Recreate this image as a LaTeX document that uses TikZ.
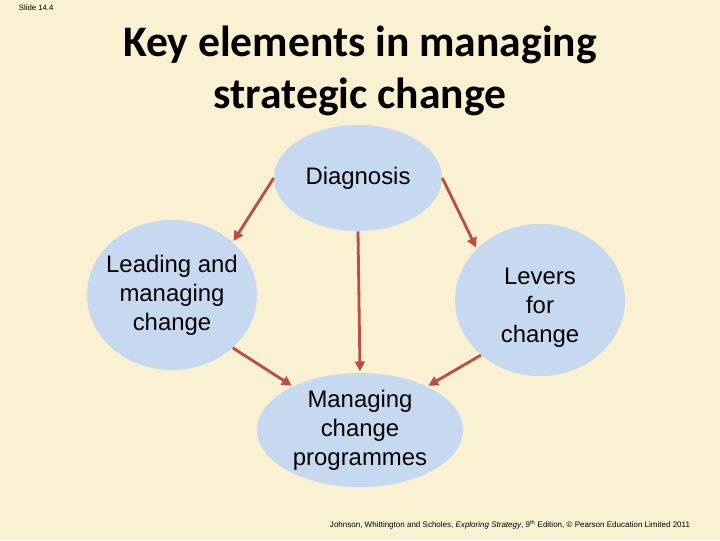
\documentclass[tikz,border=0pt]{standalone}
\usepackage{fontspec}
\setmainfont{Liberation Sans}
\newfontfamily\titlefont{Carlito}
\usepackage{tikz}
\usetikzlibrary{arrows.meta,shapes.geometric}

\definecolor{slidebg}{RGB}{250,240,210}
\definecolor{blobfill}{RGB}{198,217,240}
\definecolor{arrowred}{RGB}{185,78,68}

\tikzset{
  blob/.style={ellipse,fill=blobfill,inner sep=-12pt,align=center,
    font=\fontsize{17}{20.5}\selectfont},
  link/.style={-{Triangle[length=7pt,width=7pt]},line width=2pt,arrowred,shorten >=1pt}
}

\begin{document}
\begin{tikzpicture}[x=0.025cm,y=-0.025cm]
  % Slide background
  \fill[slidebg] (0,0) rectangle (720,540);
  \useasboundingbox (0,0) rectangle (720,540);
  % Slide number and title
  \node[anchor=west,font=\fontsize{5.5}{6}\selectfont] (slideno) at (14,8) {Slide 14.4};
  \node[align=center,font=\titlefont\bfseries\fontsize{31}{37}\selectfont] (title) at (360,71)
    {Key elements in managing\\strategic change};
  % The four elements
  \node[blob,minimum width=4.2cm,minimum height=2.65cm] (diag) at (358,178) {Diagnosis};
  \node[blob,minimum width=4.25cm,minimum height=3.75cm] (lead) at (172,295) {Leading and\\managing\\change};
  \node[blob,minimum width=4.25cm,minimum height=3.8cm] (levers) at (540,300) {\\[2pt]Levers\\for\\change};
  \node[blob,minimum width=5.15cm,minimum height=2.85cm] (prog) at (360,430) {Managing\\change\\programmes};
  % Connectors
  \draw[link] (diag.west) -- (lead.41);
  \draw[link] (diag.east) -- (levers.141);
  \draw[link] (diag.south) -- (prog.north);
  \draw[link] (lead.-41) -- (prog.147);
  \draw[link] (levers.-137) -- (prog.33);
  % Source line
  \node[font=\fontsize{5.7}{6}\selectfont] (source) at (510,525)
    {Johnson, Whittington and Scholes, \textit{Exploring Strategy}, 9\textsuperscript{th} Edition, \copyright{} Pearson Education Limited 2011};
\end{tikzpicture}
\end{document}
